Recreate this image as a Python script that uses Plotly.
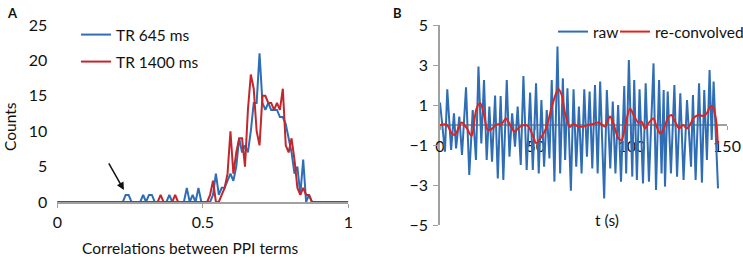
import numpy as np
import plotly.graph_objects as go

W, H = 743, 258

# ---------- Panel A data: histogram of correlations (bin centres 0.005 ... 0.995) ----------
bin_centers = np.round(np.arange(100) * 0.01 + 0.005, 3).tolist()
counts_645 = ([0] * 23 + [1, 1] + [0] * 4 + [1, 0, 1, 1] + [0] * 5 + [1] + [0] * 5 +
              [2, 0, 1, 0, 2, 0, 0, 0, 0, 1, 4, 1, 2, 2, 3, 4, 3, 5, 9, 7, 8, 7, 10, 14, 14,
               21, 14, 13, 14, 13, 13, 13, 12, 12, 11, 9, 7, 4, 5, 1, 6, 0, 1, 0] + [0] * 12)
counts_1400 = ([0] * 35 + [1] + [0] * 4 + [1] + [0] * 11 +
               [1, 3, 0, 0, 1, 2, 4, 10, 4, 7, 9, 9, 5, 13, 18, 16, 10, 8, 15, 15, 14, 14,
                13, 14, 13, 16, 8, 7, 9, 6, 2, 1, 2, 1, 1] + [0] * 13)
a_xticks = [0, 0.5, 1]
a_yticks = [0, 5, 10, 15, 20, 25]

# ---------- Panel B data: raw and re-convolved time series ----------
raw_t = [0.0, 2.6, 3.8, 5.8, 7.3, 8.4, 10.1, 11.5, 13.6, 15.3, 17.1, 18.8, 20.1, 21.6, 23.0,
         24.4, 25.8, 27.2, 28.8, 30.2, 31.7, 33.1, 34.9, 36.3, 37.7, 39.2, 40.6, 42.2, 43.6,
         45.3, 47.1, 48.5, 50.2, 51.6, 53.0, 54.4, 55.8, 57.2, 58.4, 59.8, 61.4, 62.8, 64.2,
         65.4, 66.6, 68.4, 69.8, 71.2, 72.6, 74.0, 75.4, 76.8, 78.2, 79.6, 81.0, 82.4, 83.7,
         85.8, 87.2, 89.0, 90.3, 91.7, 93.1, 94.6, 96.3, 97.3, 98.7, 100.5, 101.5, 102.9,
         104.3, 106.1, 107.5, 109.2, 111.6, 112.9, 114.5, 115.8, 116.9, 117.6, 119.0, 120.7,
         122.5, 123.9, 125.6, 127.3, 129.1, 131.2, 132.2, 133.6, 135.4, 136.9, 138.1, 139.5,
         140.9, 142.0, 143.0, 145.3]
raw_v = [1.12, -1.33, 1.78, -1.25, 0.58, -1.17, 0.42, -1.5, 1.88, -2.5, 0.75, -1.75, 2.92,
         -0.92, 2.25, -1.75, 0.92, -1.83, 1.47, -2.67, 1.45, -2.75, 2.25, -1.58, 0.58, -1.08,
         0.92, -2.0, 2.45, -2.25, 1.62, -2.25, 2.08, -2.42, 1.25, -2.08, 0.75, -1.67, 2.25,
         -2.83, 3.92, -2.42, 2.33, -1.75, 1.83, -3.28, 1.78, -2.08, 0.92, -2.42, 1.78, -1.58,
         1.67, -2.17, 2.0, -2.42, 2.17, -3.67, 1.75, -2.17, 1.17, -2.42, 1.0, -2.83, 1.95,
         -2.42, 3.25, -2.58, 2.25, -2.75, 1.78, -2.92, 2.08, -2.83, 3.08, -3.25, 2.25, -2.42,
         1.75, -3.08, 1.67, -2.42, 2.0, -2.58, 1.58, -2.75, 1.25, -2.08, 1.5, -2.75, 2.08,
         -2.88, 1.75, -1.75, 2.75, -0.75, 2.17, -3.17]
conv_t = [0, 3.5, 6, 7.8, 11.3, 13.9, 16.5, 19, 21, 22.7, 25, 27, 29.6, 32.2, 34.5, 36.6, 39,
          41.6, 44.4, 46.2, 48.8, 50.2, 53, 55.7, 58.4, 61.8, 63.6, 65.3, 67.9, 69.7, 72.3,
          74.9, 77.5, 80.1, 82.7, 84.5, 86.2, 88.8, 90.6, 93.2, 94.9, 96.7, 99.3, 101.4,
          103.7, 105.4, 107.1, 108.9, 111.5, 113.2, 115, 116.7, 119.3, 121, 122.8, 125,
          127.1, 128.9, 130.6, 132.4, 135, 137.6, 139.4, 141.5, 143, 144.4, 145.2]
conv_v = [0, 0.02, -0.4, -0.5, 0.12, -0.15, -0.55, 0.8, 1.1, 0.65, -0.25, -0.2, 0.03, 0.05,
          0.33, 0, -0.33, -0.1, 0, -0.08, -0.6, -0.9, -0.6, -0.1, 0.9, 1.8, 1.5, 0.6, -0.1,
          0.05, -0.08, -0.08, 0, 0.05, 0.12, 0.03, -0.08, 0.42, 0.08, -0.67, -0.75, -0.08,
          0.83, 0.45, 0.12, 0.17, -0.17, 0.08, 0.33, -0.08, -0.42, -0.25, 0.38, 0.5, 0.17,
          -0.17, 0, -0.17, 0, 0.33, 0.5, 0.45, 0.58, 0.95, 0.83, 0.17, -0.95]
b_xticks = [0, 50, 100, 150]
b_yticks = [-5, -3, -1, 1, 3, 5]

BLUE = "#2F6DB5"
RED_A = "#C3262C"
RED_B = "#E2231B"
GRAY = "#A0A0A0"
FONT = "Lato"
FS = 15.5
TXT = "#111"


def px(x):
    return x / W


def py(y):
    return 1 - y / H


a_x = [0] + bin_centers + [1]
a_blue = [0] + counts_645 + [0]
a_red = [0] + counts_1400 + [0]

fig = go.Figure()
fig.add_trace(go.Scatter(x=a_x, y=a_blue, mode="lines", name="TR 645 ms",
                         line=dict(color=BLUE, width=2), xaxis="x", yaxis="y",
                         legend="legend"))
fig.add_trace(go.Scatter(x=a_x, y=a_red, mode="lines", name="TR 1400 ms",
                         line=dict(color=RED_A, width=2), xaxis="x", yaxis="y",
                         legend="legend2"))
fig.add_trace(go.Scatter(x=raw_t, y=raw_v, mode="lines", name="raw",
                         line=dict(color=BLUE, width=2), xaxis="x2", yaxis="y2",
                         legend="legend3"))
fig.add_trace(go.Scatter(x=conv_t, y=conv_v, mode="lines", name="re-convolved",
                         line=dict(color=RED_B, width=2, shape="spline", smoothing=0.8),
                         xaxis="x2", yaxis="y2", legend="legend4"))

tickfont = dict(family=FONT, size=16, color=TXT)
legfont = dict(family=FONT, size=FS, color=TXT)


def leg(x, y):
    return dict(x=px(x), y=py(y), xanchor="left", yanchor="middle",
                bgcolor="rgba(0,0,0,0)", font=legfont, orientation="v")


fig.update_layout(
    width=W, height=H,
    margin=dict(l=0, r=0, t=0, b=0, autoexpand=False),
    paper_bgcolor="white", plot_bgcolor="white",
    font=dict(family=FONT, size=FS, color=TXT),
    xaxis=dict(domain=[px(57.3), px(348.3)], range=[0, 1], tickvals=a_xticks,
               ticktext=["0", "0.5", "1"], showgrid=False, zeroline=False,
               showline=True, linecolor=GRAY, linewidth=1.5, ticks="outside",
               ticklen=4, tickcolor=GRAY, tickfont=tickfont, ticklabelstandoff=1,
               anchor="y", layer="below traces", automargin=False),
    yaxis=dict(domain=[py(202), py(25)], range=[0, 25], tickvals=a_yticks,
               showgrid=False, zeroline=False, showline=False, ticks="",
               tickfont=tickfont, ticklabelstandoff=9, anchor="x", automargin=False),
    xaxis2=dict(domain=[px(440), px(727)], range=[0, 150], tickvals=b_xticks,
                showgrid=False, zeroline=False, showline=True, linecolor=GRAY,
                linewidth=1.5, ticks="outside", ticklen=4, tickcolor=GRAY,
                tickfont=tickfont, ticklabelstandoff=3, anchor="free",
                position=py(125), layer="below traces", automargin=False),
    yaxis2=dict(domain=[py(225), py(25)], range=[-5, 5], tickvals=b_yticks,
                showgrid=False, zeroline=False, showline=True, linecolor=GRAY,
                linewidth=1.5, ticks="outside", ticklen=5, tickcolor=GRAY,
                tickfont=tickfont, ticklabelstandoff=2, anchor="x2",
                layer="below traces", automargin=False),
    legend=leg(76, 35),
    legend2=leg(76, 62),
    legend3=leg(553, 32),
    legend4=leg(615, 32),
    showlegend=True,
)


def note(text, x, y, size=FS, angle=0):
    return dict(text=text, x=px(x), y=py(y), xref="paper", yref="paper",
                xanchor="center", yanchor="middle", showarrow=False, textangle=angle,
                font=dict(family=FONT, size=size, color=TXT))


annotations = [
    note("<b>A</b>", 12, 13, size=13),
    note("<b>B</b>", 397, 13, size=13),
    note("Counts", 10, 127, angle=-90),
    note("Correlations between PPI terms", 190, 248),
    note("t (s)", 607, 220),
    dict(text="", x=0.229, y=1.7, xref="x", yref="y", showarrow=True, arrowhead=2,
         arrowsize=1, arrowwidth=1.5, arrowcolor=TXT, ax=-16, ay=-28),
]
fig.update_layout(annotations=annotations)

fig.write_html("out.html", config={"displayModeBar": False},
               post_script="document.body.style.margin='0';document.body.style.padding='0';")
